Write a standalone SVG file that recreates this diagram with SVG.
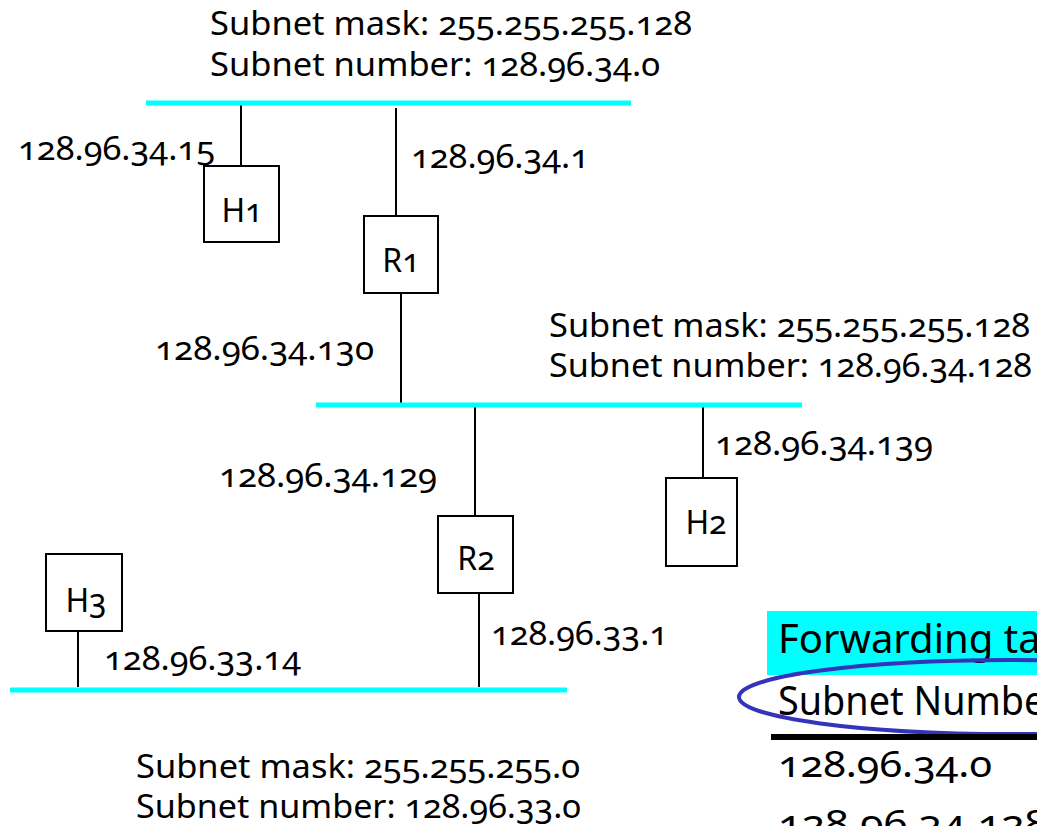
<svg xmlns="http://www.w3.org/2000/svg" width="1037" height="826" viewBox="0 0 1037 826">
<style>
text{font-family:"Noto Sans","Liberation Sans",sans-serif;font-variant-numeric:oldstyle-nums;font-feature-settings:"onum" 1;fill:#000;font-size:32px}
.net{stroke:#00ffff;stroke-width:5}
.wire{stroke:#000;stroke-width:2}
.box{fill:#fff;stroke:#000;stroke-width:2}
.big{font-size:40px}
.row{font-size:37px}
</style>
<rect width="1037" height="826" fill="#fff"/>
<g id="connectors">
<line class="wire" x1="241" y1="104" x2="241" y2="166"/>
<line class="wire" x1="396" y1="108" x2="396" y2="216"/>
<line class="wire" x1="401" y1="293" x2="401" y2="403"/>
<line class="wire" x1="475" y1="407" x2="475" y2="516"/>
<line class="wire" x1="703" y1="407" x2="703" y2="478"/>
<line class="wire" x1="479" y1="593" x2="479" y2="687"/>
<line class="wire" x1="78" y1="627" x2="78" y2="687"/>
</g>
<g id="net1"><line class="net" x1="146" y1="103" x2="631" y2="103"/>
<text x="210" y="35" textLength="482" lengthAdjust="spacingAndGlyphs">Subnet mask: 255.255.255.128</text>
<text x="210" y="76" textLength="450" lengthAdjust="spacingAndGlyphs">Subnet number: 128.96.34.0</text></g>
<g id="net2"><line class="net" x1="316" y1="405" x2="802" y2="405"/>
<text x="549" y="337" textLength="481" lengthAdjust="spacingAndGlyphs">Subnet mask: 255.255.255.128</text>
<text x="549" y="377" textLength="483" lengthAdjust="spacingAndGlyphs">Subnet number: 128.96.34.128</text></g>
<g id="net3"><line class="net" x1="10" y1="690" x2="567" y2="690"/>
<text x="136" y="778" textLength="444" lengthAdjust="spacingAndGlyphs">Subnet mask: 255.255.255.0</text>
<text x="136" y="818" textLength="445" lengthAdjust="spacingAndGlyphs">Subnet number: 128.96.33.0</text></g>
<g id="H1"><rect class="box" x="204" y="166" width="75" height="76"/><text x="242" y="222" text-anchor="middle">H1</text>
<text x="18" y="160" textLength="197" lengthAdjust="spacingAndGlyphs">128.96.34.15</text></g>
<g id="R1"><rect class="box" x="364" y="216" width="74" height="77"/><text x="401" y="272" text-anchor="middle">R1</text>
<text x="411" y="168" textLength="178" lengthAdjust="spacingAndGlyphs">128.96.34.1</text>
<text x="155" y="360" textLength="219" lengthAdjust="spacingAndGlyphs">128.96.34.130</text></g>
<g id="R2"><rect class="box" x="438" y="516" width="75" height="77"/><text x="476" y="570" text-anchor="middle">R2</text>
<text x="219" y="487" textLength="218" lengthAdjust="spacingAndGlyphs">128.96.34.129</text>
<text x="491" y="645" textLength="177" lengthAdjust="spacingAndGlyphs">128.96.33.1</text></g>
<g id="H2"><rect class="box" x="666" y="478" width="71" height="88"/><text x="706" y="534" text-anchor="middle">H2</text>
<text x="715" y="455" textLength="218" lengthAdjust="spacingAndGlyphs">128.96.34.139</text></g>
<g id="H3"><rect class="box" x="46" y="554" width="76" height="77"/><text x="86" y="612" text-anchor="middle">H3</text>
<text x="104" y="670" textLength="197" lengthAdjust="spacingAndGlyphs">128.96.33.14</text></g>
<g id="table">
<rect x="767" y="611" width="280" height="64" fill="#00ffff"/>
<text class="big" x="778" y="653">Forwarding table</text>
<ellipse cx="1010" cy="697" rx="271" ry="37" fill="none" stroke="#3333bb" stroke-width="4"/>
<text class="big" x="778" y="715" textLength="283" lengthAdjust="spacingAndGlyphs">Subnet Number</text>
<line x1="771" y1="737" x2="1037" y2="737" stroke="#000" stroke-width="6"/>
<text class="row" x="778" y="777" textLength="214" lengthAdjust="spacingAndGlyphs">128.96.34.0</text>
<text class="row" x="778" y="836" textLength="270" lengthAdjust="spacingAndGlyphs">128.96.34.128</text>
</g>
</svg>
